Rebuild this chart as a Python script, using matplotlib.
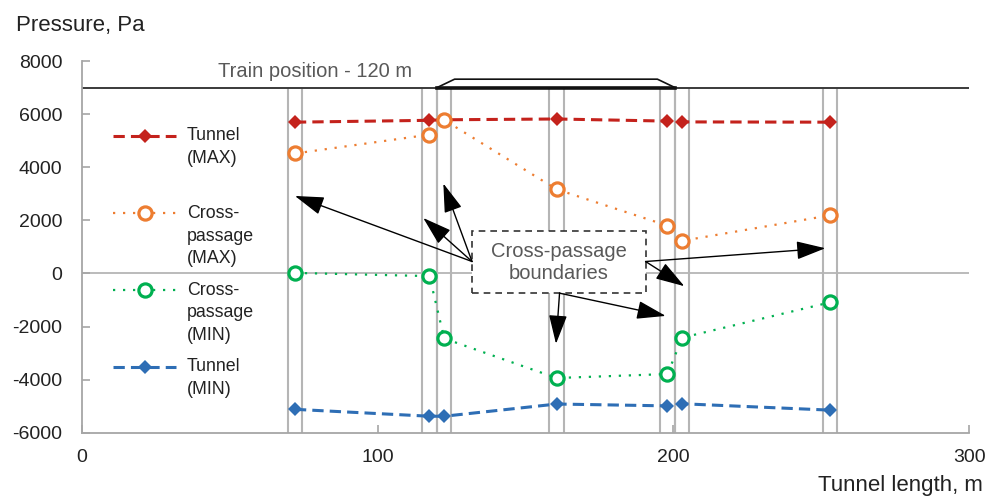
import matplotlib
matplotlib.use("Agg")
import matplotlib.pyplot as plt
from matplotlib.patches import Rectangle
from matplotlib.transforms import ScaledTranslation

plt.rcParams['font.family'] = ['Liberation Sans', 'DejaVu Sans']
plt.rcParams['axes.unicode_minus'] = False

# ---- data ----
positions = [72, 117.5, 122.5, 160.5, 198, 203, 253]          # tunnel length, m
tunnel_max = [5700, 5770, 5790, 5820, 5740, 5710, 5700]
cross_max = [4520, 5230, 5780, 3170, 1800, 1230, 2190]
cross_min = [20, -100, -2450, -3940, -3790, -2420, -1090]
tunnel_min = [-5120, -5380, -5380, -4920, -4990, -4910, -5150]
passage_width = 4.8
train_start = 120
train_end = 200.6
train_level = 7000
train_roof = 7320
x_ticks = [0, 100, 200, 300]
y_ticks = [-6000, -4000, -2000, 0, 2000, 4000, 6000, 8000]
series_labels = ["Tunnel\n(MAX)", "Cross-\npassage\n(MAX)", "Cross-\npassage\n(MIN)", "Tunnel\n(MIN)"]

RED = '#C4221C'
ORANGE = '#ED7D31'
GREEN = '#00B050'
BLUE = '#2E6EB5'
GRID = '#b5b5b5'
TXT = '#222222'

fig = plt.figure(figsize=(9.98, 4.97), dpi=100)
ax = fig.add_axes([0.0822, 0.1294, 0.971 - 0.0822, 0.877 - 0.1294])
ax.set_xlim(0, 300)
ax.set_ylim(-6000, 8000)
ax.set_xticks(x_ticks)
ax.set_yticks(y_ticks)
ax.tick_params(direction='in', length=6, width=1.2, color='#a6a6a6',
               labelsize=14, labelcolor=TXT)
ax.tick_params(axis='x', pad=12)
ax.tick_params(axis='y', pad=14)
for s in ['top', 'right']:
    ax.spines[s].set_visible(False)
for s in ['left', 'bottom']:
    ax.spines[s].set_color('#a6a6a6')
    ax.spines[s].set_linewidth(1.3)

# zero line and train level line
ax.axhline(0, color=GRID, lw=1.3, zorder=1)
ax.axhline(train_level, color='#3a3a3a', lw=1.4, zorder=2)

# cross-passage boundaries
for p in positions:
    ax.vlines([p - passage_width / 2, p + passage_width / 2], -6000, train_level,
              colors=GRID, lw=1.5, zorder=1)

# train outline
nose = 6
ax.plot([train_start, train_start + nose, train_end - nose, train_end],
        [train_level, train_roof, train_roof, train_level], color='#111111', lw=1.2, zorder=3)
ax.plot([train_start, train_end], [train_level, train_level], color='#111111', lw=2.6, zorder=3)
ax.text(78.7, 7600, "Train position - 120 m", ha='center', va='center',
        fontsize=14.5, color='#595959')

# series
dash = (0, (3.7, 2.0))
dot = (0, (1, 3.5))
series = [
    dict(y=tunnel_max, color=RED, ls=dash, lw=2.2, marker='D', ms=7, mfc=RED, mew=0),
    dict(y=cross_max, color=ORANGE, ls=dot, lw=1.6, marker='o', ms=9.5, mfc='white', mew=2.3),
    dict(y=cross_min, color=GREEN, ls=dot, lw=1.6, marker='o', ms=9.5, mfc='white', mew=2.3),
    dict(y=tunnel_min, color=BLUE, ls=dash, lw=2.2, marker='D', ms=7, mfc=BLUE, mew=0),
]
for s in series:
    ax.plot(positions, s['y'], color=s['color'], linestyle=s['ls'], lw=s['lw'],
            marker=s['marker'], ms=s['ms'], markerfacecolor=s['mfc'],
            markeredgecolor=s['color'], markeredgewidth=s['mew'], zorder=5)

# manual legend (handle aligned with the first text line)
legend_rows = [0.799, 0.590, 0.383, 0.178]
for s, lab, yr in zip(series, series_labels, legend_rows):
    ax.plot([0.035, 0.106], [yr, yr], transform=ax.transAxes, color=s['color'],
            linestyle=s['ls'], lw=s['lw'], zorder=5, clip_on=False)
    ax.plot([0.0705], [yr], transform=ax.transAxes, color=s['color'], linestyle='none',
            marker=s['marker'], ms=s['ms'], markerfacecolor=s['mfc'],
            markeredgecolor=s['color'], markeredgewidth=s['mew'], zorder=6, clip_on=False)
    ax.text(0.118, yr, lab, transform=ax.transAxes + ScaledTranslation(0, 6.3 / 72, fig.dpi_scale_trans),
            ha='left', va='top', fontsize=12.8, color=TXT, linespacing=1.45)

# annotation box
box_l, box_r, box_b, box_t = 131.9, 190.6, -743, 1596
ax.add_patch(Rectangle((box_l, box_b), box_r - box_l, box_t - box_b, facecolor='white',
                       edgecolor='#333333', lw=1.2, ls=(0, (4, 3)), zorder=7))
ax.text((box_l + box_r) / 2, 426, "Cross-passage\nboundaries", ha='center', va='center',
        fontsize=14.5, color='#595959', zorder=8)

arrow_kw = dict(arrowstyle='-|>,head_length=0.95,head_width=0.3', color='black', lw=1.0,
                shrinkA=0, shrinkB=0, mutation_scale=19)
left_start = (box_l, 450)
right_start = (box_r, 450)
bottom_start = (161.5, box_b)
arrow_tips = [
    (left_start, (72.0, 2920)),
    (left_start, (122.2, 3390)),
    (left_start, (115.4, 2090)),
    (right_start, (251.4, 950)),
    (right_start, (203.7, -480)),
    (bottom_start, (160.3, -2650)),
    (bottom_start, (197.4, -1600)),
]
for start, tip in arrow_tips:
    ax.annotate('', xy=tip, xytext=start, arrowprops=arrow_kw, zorder=8)

fig.text(15.7 / 998, 1 - 25 / 497, "Pressure, Pa", ha='left', va='center', fontsize=16, color=TXT)
fig.text(983 / 998, 6 / 497, "Tunnel length, m", ha='right', va='baseline', fontsize=16, color=TXT)

fig.savefig("out.png", dpi=100)
